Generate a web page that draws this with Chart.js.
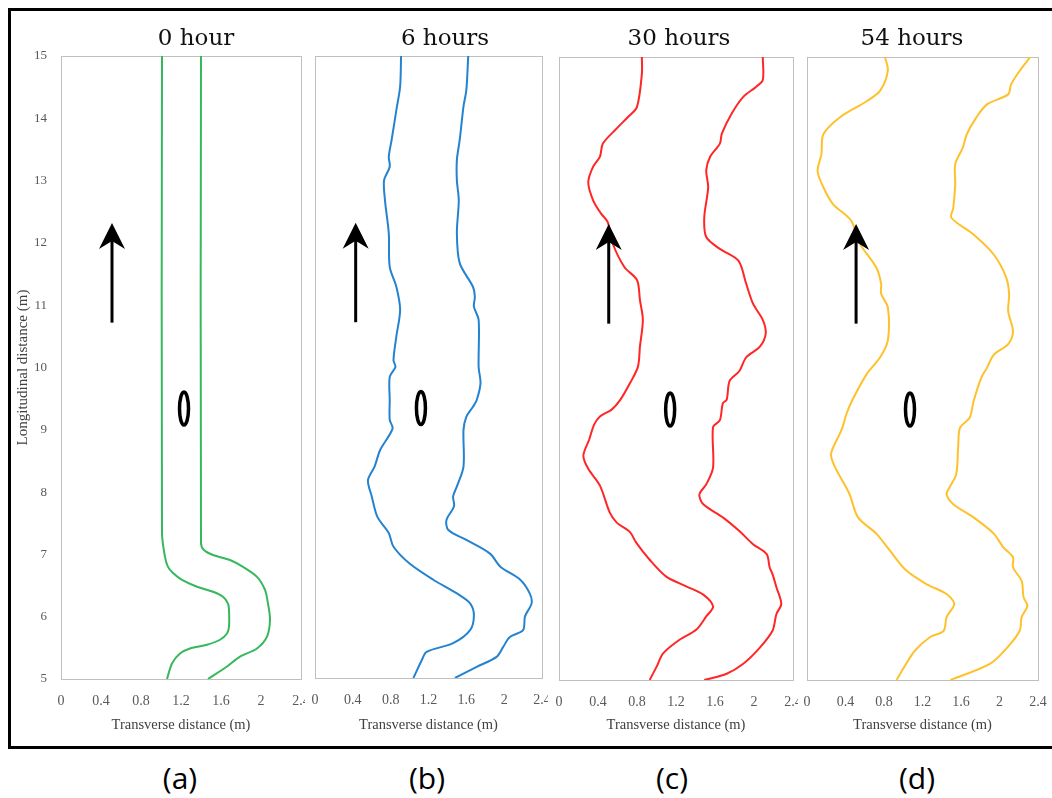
<!DOCTYPE html>
<html>
<head>
<meta charset="utf-8">
<script src="https://cdn.jsdelivr.net/npm/chart.js"></script>
<style>
body { margin: 0; background: #fff; width: 1052px; height: 798px; overflow: hidden; position: relative; }
#frame { position: absolute; left: 8px; top: 8px; width: 1100px; height: 735px; border: 3px solid #000; }
canvas { position: absolute; }
.ttl { position: absolute; top: 26px; font-family: "DejaVu Serif", serif; font-size: 23px; line-height: 23px; transform: translateX(-50%); white-space: nowrap; color: #111; }
.lbl { position: absolute; top: 763px; font-family: "Open Sans", sans-serif; font-size: 30px; line-height: 30px; transform: translateX(-50%); white-space: nowrap; color: #000; }
</style>
</head>
<body>
<div id="frame"></div>
<canvas id="pa" width="293" height="698" style="left:12px;top:46px"></canvas>
<canvas id="pb" width="243" height="698" style="left:305px;top:46px"></canvas>
<canvas id="pc" width="250" height="698" style="left:548px;top:46px"></canvas>
<canvas id="pd" width="254" height="698" style="left:798px;top:46px"></canvas>
<div class="ttl" style="left:196px">0 hour</div>
<div class="ttl" style="left:445px">6 hours</div>
<div class="ttl" style="left:679px">30 hours</div>
<div class="ttl" style="left:912px">54 hours</div>
<div class="lbl" style="left:180px">(a)</div>
<div class="lbl" style="left:427px">(b)</div>
<div class="lbl" style="left:672px">(c)</div>
<div class="lbl" style="left:917px">(d)</div>
<script>
const xTicks = [0, 0.4, 0.8, 1.2, 1.6, 2, 2.4];
const yTicks = [5, 6, 7, 8, 9, 10, 11, 12, 13, 14, 15];

// 0 hour
const aLeftY  = [15, 7.34, 6.96, 6.80, 6.70, 6.59, 6.48, 6.40, 6.32, 6.21, 6.11, 5.84, 5.73, 5.63, 5.55, 5.49, 5.41, 5.25, 5.0];
const aLeftX  = [1.01, 1.01, 1.04, 1.07, 1.12, 1.21, 1.36, 1.52, 1.62, 1.67, 1.68, 1.68, 1.66, 1.59, 1.46, 1.29, 1.19, 1.11, 1.06];
const aRightY = [15, 7.18, 7.07, 6.99, 6.91, 6.80, 6.64, 6.43, 6.21, 5.95, 5.68, 5.49, 5.36, 5.20, 5.0];
const aRightX = [1.40, 1.40, 1.43, 1.52, 1.69, 1.82, 1.96, 2.04, 2.07, 2.09, 2.06, 1.96, 1.79, 1.66, 1.47];

// 6 hours
const bLeftY  = [15, 14.51, 14.13, 13.65, 13.38, 13.22, 13.0, 12.68, 12.15, 11.61, 11.29, 10.92, 10.49, 10.11, 10.0, 9.84, 9.47, 9.15, 9.01, 8.67, 8.40, 8.18, 7.92, 7.59, 7.33, 7.11, 6.84, 6.58, 6.36, 6.20, 6.01, 5.77, 5.56, 5.42, 5.29, 5.0];
const bLeftX  = [0.91, 0.90, 0.86, 0.81, 0.78, 0.79, 0.73, 0.74, 0.78, 0.79, 0.86, 0.90, 0.86, 0.83, 0.85, 0.79, 0.79, 0.79, 0.82, 0.69, 0.63, 0.56, 0.60, 0.66, 0.78, 0.83, 1.00, 1.25, 1.50, 1.64, 1.68, 1.64, 1.46, 1.18, 1.13, 1.04];
const bRightY = [15, 14.45, 14.19, 13.65, 13.33, 13.0, 12.68, 12.15, 11.67, 11.29, 11.13, 10.97, 10.76, 10.0, 9.74, 9.47, 9.36, 9.20, 8.99, 8.40, 8.08, 7.92, 7.76, 7.54, 7.38, 7.22, 7.0, 6.79, 6.58, 6.36, 6.20, 5.99, 5.77, 5.66, 5.50, 5.34, 5.18, 5.0];
const bRightX = [1.62, 1.60, 1.57, 1.53, 1.50, 1.50, 1.52, 1.50, 1.53, 1.67, 1.69, 1.68, 1.73, 1.73, 1.75, 1.71, 1.67, 1.60, 1.57, 1.57, 1.50, 1.46, 1.47, 1.39, 1.41, 1.60, 1.85, 1.96, 2.17, 2.27, 2.29, 2.22, 2.20, 2.06, 1.99, 1.92, 1.71, 1.48];

// 30 hours
const cLeftY  = [15, 14.73, 14.20, 14.04, 13.85, 13.61, 13.40, 13.24, 12.99, 12.70, 12.49, 12.35, 12.01, 11.63, 11.42, 11.10, 10.78, 10.35, 10.03, 9.77, 9.50, 9.34, 9.23, 9.10, 8.86, 8.60, 8.39, 8.12, 7.69, 7.53, 7.37, 7.21, 6.93, 6.66, 6.50, 6.37, 6.18, 6.02, 5.81, 5.65, 5.43, 5.21, 5.0];
const cLeftX  = [0.85, 0.85, 0.80, 0.71, 0.59, 0.45, 0.42, 0.35, 0.30, 0.35, 0.43, 0.50, 0.55, 0.67, 0.80, 0.83, 0.86, 0.83, 0.81, 0.73, 0.63, 0.54, 0.42, 0.36, 0.31, 0.25, 0.30, 0.42, 0.52, 0.59, 0.73, 0.79, 0.93, 1.10, 1.31, 1.48, 1.58, 1.51, 1.41, 1.24, 1.07, 1.00, 0.93];
const cRightY = [15, 14.63, 14.52, 14.36, 14.09, 13.77, 13.61, 13.40, 13.18, 12.91, 12.43, 12.11, 11.92, 11.73, 11.36, 11.04, 10.78, 10.56, 10.35, 10.18, 9.96, 9.80, 9.50, 9.44, 9.17, 9.06, 8.41, 8.14, 7.98, 7.82, 7.61, 7.39, 7.18, 7.02, 6.81, 6.70, 6.49, 6.22, 6.06, 5.79, 5.52, 5.26, 5.10, 5.0];
const cRightX = [2.09, 2.09, 2.02, 1.89, 1.77, 1.67, 1.65, 1.55, 1.51, 1.53, 1.49, 1.51, 1.65, 1.84, 1.92, 1.99, 2.09, 2.12, 2.06, 1.92, 1.85, 1.75, 1.72, 1.68, 1.65, 1.58, 1.58, 1.51, 1.44, 1.48, 1.68, 1.85, 1.99, 2.13, 2.16, 2.19, 2.23, 2.28, 2.23, 2.19, 2.06, 1.89, 1.72, 1.49];

// 54 hours
const dLeftY  = [15, 14.78, 14.46, 14.29, 14.03, 13.76, 13.44, 13.17, 12.91, 12.64, 12.37, 12.0, 11.62, 11.36, 11.20, 10.98, 10.45, 10.18, 9.91, 9.49, 9.27, 9.06, 8.95, 8.63, 8.42, 7.99, 7.61, 7.35, 7.08, 6.76, 6.54, 6.38, 6.22, 6.01, 5.79, 5.69, 5.47, 5.26, 5.0];
const dLeftX  = [0.81, 0.84, 0.76, 0.62, 0.34, 0.17, 0.15, 0.11, 0.17, 0.27, 0.46, 0.55, 0.72, 0.77, 0.77, 0.84, 0.84, 0.76, 0.62, 0.47, 0.41, 0.37, 0.34, 0.25, 0.29, 0.44, 0.53, 0.72, 0.86, 1.03, 1.24, 1.45, 1.53, 1.45, 1.42, 1.28, 1.12, 1.03, 0.93];
const dRightY = [15, 14.78, 14.56, 14.40, 14.24, 14.03, 13.76, 13.55, 13.28, 12.96, 12.58, 12.42, 12.15, 11.83, 11.46, 11.19, 10.92, 10.60, 10.39, 10.22, 10.01, 9.85, 9.47, 9.21, 9.05, 8.73, 8.30, 8.09, 7.98, 7.82, 7.61, 7.35, 7.13, 6.97, 6.81, 6.59, 6.33, 6.19, 6.01, 5.79, 5.52, 5.26, 5.0];
const dRightX = [2.32, 2.21, 2.12, 2.09, 1.87, 1.76, 1.66, 1.62, 1.54, 1.54, 1.52, 1.50, 1.73, 1.94, 2.07, 2.10, 2.09, 2.14, 2.09, 1.94, 1.87, 1.81, 1.73, 1.69, 1.59, 1.57, 1.55, 1.48, 1.45, 1.52, 1.73, 1.94, 2.04, 2.14, 2.14, 2.23, 2.25, 2.29, 2.23, 2.21, 2.08, 1.90, 1.49];

// flow arrow and the little ellipse marker, in axis units
const arrowX = [0.51, 0.43, 0.51, 0.51];
const arrowTail = 10.72;
const arrowTip = 12.32;
const markX = [1.23, 1.12, 1.14, 1.07];
const markY = 9.34;

Chart.defaults.font.family = '"Liberation Serif", "Times New Roman", serif';

const pts = (xs, ys) => xs.map((x, k) => ({ x: x, y: ys[k] }));

const framePlugin = {
    id: 'frame',
    beforeDatasetsDraw(chart) {
        const a = chart.chartArea, g = chart.ctx;
        g.save();
        g.strokeStyle = '#bfbfbf';
        g.lineWidth = 1;
        g.strokeRect(Math.round(a.left) + 0.5, Math.round(a.top) + 0.5, Math.round(a.right - a.left), Math.round(a.bottom - a.top));
        g.restore();
    }
};

function marks(i) {
    return {
        id: 'marks' + i,
        afterDatasetsDraw(chart) {
            const sx = chart.scales.x, sy = chart.scales.y, g = chart.ctx;
            const ax = sx.getPixelForValue(arrowX[i]);
            const y0 = sy.getPixelForValue(arrowTail);
            const y1 = sy.getPixelForValue(arrowTip);
            g.save();
            g.strokeStyle = '#000';
            g.fillStyle = '#000';
            g.lineWidth = 3;
            g.beginPath();
            g.moveTo(ax, y0);
            g.lineTo(ax, y1 + 16);
            g.stroke();
            g.beginPath();
            g.moveTo(ax, y1);
            g.lineTo(ax + 13, y1 + 26);
            g.lineTo(ax, y1 + 18);
            g.lineTo(ax - 13, y1 + 26);
            g.closePath();
            g.fill();
            g.lineWidth = 3.5;
            g.beginPath();
            g.ellipse(sx.getPixelForValue(markX[i]), sy.getPixelForValue(markY), 4.5, 16.5, 0, 0, Math.PI * 2);
            g.stroke();
            g.restore();
        }
    };
}

const canvasTop = 46, canvasH = 698;
const panels = [
    { id: 'pa', left: 12,  width: 293, plot: [61, 301, 56, 679],  color: '#35b85c', yAxis: true,  l: [aLeftX, aLeftY], r: [aRightX, aRightY] },
    { id: 'pb', left: 305, width: 243, plot: [315, 542, 56, 678], color: '#2483d0', yAxis: false, l: [bLeftX, bLeftY], r: [bRightX, bRightY] },
    { id: 'pc', left: 548, width: 250, plot: [559, 793, 57, 680], color: '#ff2626', yAxis: false, l: [cLeftX, cLeftY], r: [cRightX, cRightY] },
    { id: 'pd', left: 798, width: 254, plot: [807, 1038, 57, 680], color: '#ffc12b', yAxis: false, l: [dLeftX, dLeftY], r: [dRightX, dRightY] }
];

panels.forEach((p, i) => {
    const [pl, pr, pt, pb] = p.plot;
    const yW = p.yAxis ? pl - p.left : 0;
    const line = (xy) => ({
        data: pts(xy[0], xy[1]),
        showLine: true,
        borderColor: p.color,
        borderWidth: 2,
        pointRadius: 0,
        tension: 0.3,
        fill: false
    });
    new Chart(document.getElementById(p.id).getContext('2d'), {
        type: 'scatter',
        data: { datasets: [line(p.l), line(p.r)] },
        options: {
            responsive: false,
            animation: false,
            layout: { padding: { left: pl - p.left - yW, right: p.left + p.width - pr, top: pt - canvasTop, bottom: 0 } },
            plugins: { legend: { display: false }, tooltip: { enabled: false } },
            scales: {
                x: {
                    type: 'linear', min: 0, max: 2.4,
                    grid: { display: false, drawTicks: false },
                    border: { display: false },
                    afterBuildTicks: s => { s.ticks = xTicks.map(v => ({ value: v })); },
                    afterFit: s => { s.height = canvasTop + canvasH - pb; s.paddingLeft = 0; s.paddingRight = 0; },
                    ticks: { autoSkip: false, maxRotation: 0, padding: 14, color: '#595959', font: { size: 14 }, callback: v => String(v) },
                    title: { display: true, text: 'Transverse distance (m)', color: '#404040', font: { size: 14.5 }, padding: { top: 0, bottom: 10 } }
                },
                y: {
                    type: 'linear', min: 5, max: 15, display: p.yAxis,
                    grid: { display: false, drawTicks: false },
                    border: { display: false },
                    afterBuildTicks: s => { s.ticks = yTicks.map(v => ({ value: v })); },
                    afterFit: s => { s.width = yW; s.paddingTop = 0; s.paddingBottom = 0; },
                    ticks: { autoSkip: false, padding: 14, color: '#595959', font: { size: 13 } },
                    title: { display: true, text: 'Longitudinal distance (m)', color: '#404040', font: { size: 15 }, padding: { top: 2, bottom: 0 } }
                }
            }
        },
        plugins: [framePlugin, marks(i)]
    });
});
</script>
</body>
</html>
